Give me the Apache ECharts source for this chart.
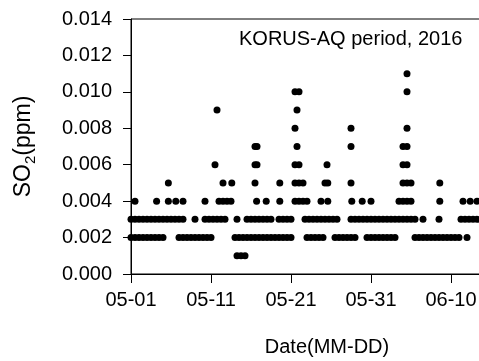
<!DOCTYPE html>
<html>
<head>
<meta charset="utf-8">
<script src="https://cdn.jsdelivr.net/npm/echarts@6/dist/echarts.min.js"></script>
<style>
  html, body { margin: 0; padding: 0; background: #fff; }
  #chart { width: 479px; height: 361px; }
</style>
</head>
<body>
<div id="chart"></div>
<script>
// Day offsets from 2016-05-01 at which each SO2 level (ppm) was observed
const at001 = [13.25, 13.75, 14.25];
const at002 = [0, 0.5, 1, 1.5, 2, 2.5, 3, 3.5, 4,
  6, 6.5, 7, 7.5, 8, 8.5, 9, 9.5, 10,
  13, 13.5, 14, 14.5, 15, 15.5, 16, 16.5, 17, 17.5, 18, 18.5, 19, 19.5, 20,
  22, 22.5, 23, 23.5, 24,
  25.5, 26, 26.5, 27, 27.5, 28,
  29.5, 30, 30.5, 31, 31.5, 32, 32.5, 33,
  35.5, 36, 36.5, 37, 37.5, 38, 38.5, 39, 39.5, 40, 40.5, 41,
  42];
const at003 = [0, 0.5, 1, 1.5, 2, 2.5, 3, 3.5, 4, 4.5, 5, 5.5, 6, 6.5,
  8,
  9.25, 9.75, 10.25, 10.75, 11.25, 11.75,
  13.25,
  14.5, 15, 15.5, 16, 16.5, 17, 17.5,
  18.5, 19, 19.5, 20,
  21.75, 22.25, 22.75, 23.25, 23.75, 24.25, 24.75, 25.25, 25.75,
  27.5, 28, 28.5, 29, 29.5, 30, 30.5, 31, 31.5, 32, 32.5, 33, 33.5, 34, 34.5, 35, 35.5,
  36.5, 38.5,
  41.25, 41.75, 42.25, 42.75, 43.25, 43.75];
const at004 = [0.5, 3.2, 4.67, 5.6, 6.5, 9.25, 11, 11.5, 12, 12.5, 15.7, 16.9, 18.6,
  20.5, 21, 21.5, 22, 23.75, 24.6, 27.6, 28.9, 30,
  33.5, 34, 34.5, 35, 38.6, 41.5, 42.4, 43.25];
const at005 = [4.67, 11.5, 12.6, 15.5, 18.6, 20.5, 21, 21.5, 24.25, 24.6, 27.5, 34, 34.5, 35, 38.6];
const at006 = [10.5, 15.5, 15.75, 20.5, 21, 24.5, 34, 34.5];
const at007 = [15.5, 15.75, 20.75, 27.5, 34, 34.5];
const at008 = [20.5, 27.5, 34.5];
const at009 = [10.75, 20.75];
const at010 = [20.5, 21, 34.5];
const at011 = [34.5];

const levels = [0.001, 0.002, 0.003, 0.004, 0.005, 0.006, 0.007, 0.008, 0.009, 0.010, 0.011];
const dayLists = [at001, at002, at003, at004, at005, at006, at007, at008, at009, at010, at011];

const xTickDays = [0, 10, 20, 30, 40];
const xTickLabels = ["05-01", "05-11", "05-21", "05-31", "06-10"];

const points = [];
levels.forEach((v, i) => dayLists[i].forEach(d => points.push([d, v])));

const FONT = "Liberation Sans, Arial, sans-serif";

const chart = echarts.init(document.getElementById("chart"));
chart.setOption({
  animation: false,
  title: {
    text: "KORUS-AQ period, 2016",
    left: 239,
    top: 29,
    padding: 0,
    textStyle: { fontFamily: FONT, fontSize: 20, fontWeight: "normal", color: "#000" }
  },
  grid: {
    left: 131, right: -44, top: 19, bottom: 87,
    outerBoundsMode: "none",
    containLabel: false,
    show: true, borderColor: "#000", borderWidth: 1
  },
  xAxis: {
    type: "value",
    min: 0,
    max: 49,
    interval: 10,
    name: "Date(MM-DD)",
    nameLocation: "middle",
    nameGap: 63,
    nameTextStyle: { fontFamily: FONT, fontSize: 20, color: "#000" },
    axisLine: { onZero: false, lineStyle: { color: "#000", width: 1 } },
    axisTick: { length: 9, lineStyle: { color: "#000" } },
    axisLabel: {
      margin: 16,
      showMaxLabel: false,
      hideOverlap: false,
      fontFamily: FONT, fontSize: 20, color: "#000",
      formatter: v => {
        const k = xTickDays.indexOf(Math.round(v));
        return k >= 0 ? xTickLabels[k] : "";
      }
    },
    splitLine: { show: false }
  },
  yAxis: {
    type: "value",
    min: 0,
    max: 0.014,
    interval: 0.002,
    name: "{a|SO}{b|2}{a|(ppm)}",
    nameLocation: "middle",
    nameGap: 93,
    nameTextStyle: {
      fontFamily: FONT, color: "#000",
      rich: {
        a: { fontFamily: FONT, fontSize: 23, color: "#000" },
        b: { fontFamily: FONT, fontSize: 15, color: "#000", padding: [13, 0, 0, 0] }
      }
    },
    axisLine: { lineStyle: { color: "#000", width: 1 } },
    axisTick: { length: 8, lineStyle: { color: "#000" } },
    axisLabel: {
      margin: 19,
      fontFamily: FONT, fontSize: 20, color: "#000",
      formatter: v => v.toFixed(3)
    },
    splitLine: { show: false }
  },
  series: [{
    type: "scatter",
    data: points,
    symbol: "circle",
    symbolSize: 7,
    itemStyle: { color: "#000", opacity: 1 }
  }]
});
</script>
</body>
</html>
